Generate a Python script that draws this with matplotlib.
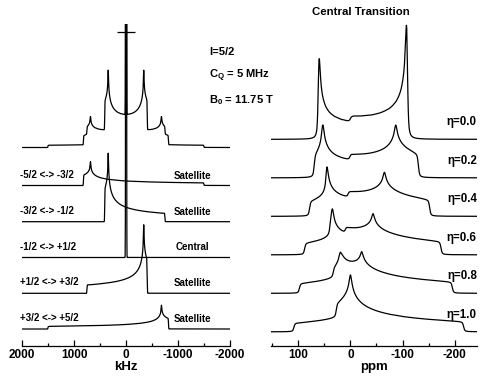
import numpy as np
import matplotlib
matplotlib.use("Agg")
import matplotlib.pyplot as plt

# spin system written on the figure
spin = 2.5
cq_mhz = 5.0
b0_tesla = 11.75
larmor_mhz = 67.8          # 17O Larmor frequency at 11.75 T
eta_kHz_panel = 0.09       # small asymmetry seen as split horns in the kHz traces
sum_gain = 0.87            # the summed trace is drawn at slightly lower gain

# transitions (m-1 <-> m), listed by m
transition_m = [-1.5, -0.5, 0.5, 1.5, 2.5]
transition_labels = ['-5/2 <-> -3/2', '-3/2 <-> -1/2', '-1/2 <-> +1/2',
                     '+1/2 <-> +3/2', '+3/2 <-> +5/2']
transition_kinds = ['Satellite', 'Satellite', 'Central', 'Satellite', 'Satellite']

# asymmetry parameters of the central transition traces
eta_values = [0.0, 0.2, 0.4, 0.6, 0.8, 1.0]

khz_ticks = [2000, 1000, 0, -1000, -2000]
ppm_ticks = [100, 0, -100, -200]

plt.rcParams['font.family'] = ['Liberation Sans', 'DejaVu Sans']
plt.rcParams['font.weight'] = 'bold'
plt.rcParams['mathtext.fontset'] = 'custom'
plt.rcParams['mathtext.rm'] = 'Liberation Sans:bold'
plt.rcParams['mathtext.bf'] = 'Liberation Sans:bold'

# powder grid: uniform in cos(theta) and phi
mu = (np.arange(2000) + 0.5) / 2000
phi = (np.arange(600) + 0.5) / 600 * np.pi / 2
MU, PHI = np.meshgrid(mu, phi)
MU = MU.ravel()
C2 = np.cos(2 * PHI).ravel()

nuq = 3 * cq_mhz * 1000 / (2 * spin * (2 * spin - 1))   # kHz
a = spin * (spin + 1)
nul = larmor_mhz * 1000                                  # kHz


def first_order(m, eta):
    return 0.5 * nuq * (m - 0.5) * (3 * MU**2 - 1 + eta * (1 - MU**2) * C2)


def second_order_ct(eta):
    A = -27 / 8 + 9 / 4 * eta * C2 - 3 / 8 * eta**2 * C2**2
    B = 30 / 8 - eta**2 / 2 - 2 * eta * C2 + 3 / 4 * eta**2 * C2**2
    C = -3 / 8 + eta**2 / 3 - eta / 4 * C2 - 3 / 8 * eta**2 * C2**2
    return -(nuq**2 / (6 * nul)) * (a - 0.75) * (A * MU**4 + B * MU**2 + C)


def spectrum(freq, edges, weight, kernel):
    h, _ = np.histogram(freq, bins=edges)
    h = h * weight / (len(freq) * (edges[1] - edges[0]))
    return np.convolve(h, kernel, mode='same')


def gauss_kernel(fwhm, step):
    s = fwhm / 2.3548
    x = np.arange(-int(5 * s / step) - 1, int(5 * s / step) + 2) * step
    k = np.exp(-0.5 * (x / s)**2)
    return k / k.sum()


def lorentz_kernel(fwhm, step):
    x = np.arange(-int(40 * fwhm / step), int(40 * fwhm / step) + 1) * step
    k = 1 / (1 + (2 * x / fwhm)**2)
    return k / k.sum()


# ---- kHz panel ----
k_edges = np.arange(-2000, 2000.5, 1.0)
k_x = 0.5 * (k_edges[1:] + k_edges[:-1])
k_kernel = gauss_kernel(9.0, 1.0)
rows = []
for m in transition_m:
    f = first_order(m, eta_kHz_panel)
    if m == 0.5:
        f = f + second_order_ct(eta_kHz_panel)
    w = a - m * (m - 1)
    rows.append(spectrum(f, k_edges, w, k_kernel))
k_scale = 68.5 / rows[1].max()
rows = [r * k_scale for r in rows]
total = np.sum(rows, axis=0) * sum_gain

# ---- ppm panel ----
p_edges = np.arange(-260, 170.01, 0.25)
p_x = 0.5 * (p_edges[1:] + p_edges[:-1])
p_kernel = np.convolve(lorentz_kernel(2.0, 0.25), gauss_kernel(2.5, 0.25), mode='same')
ct_rows = []
for eta in eta_values:
    f = second_order_ct(eta) * 1000 / larmor_mhz  # ppm
    ct_rows.append(spectrum(f, p_edges, 1.0, p_kernel))
p_scale = 114 / ct_rows[0].max()
ct_rows = [r * p_scale for r in ct_rows]

W, H = 482, 376
fig = plt.figure(figsize=(W / 100, H / 100), dpi=100)
axl = fig.add_axes([22 / W, 30 / H, 208 / W, 322 / H])
axr = fig.add_axes([271 / W, 30 / H, 206 / W, 346 / H])

lw = 0.9
left_base = [160.5, 124.3, 88.5, 52.7, 17.0]
axl.plot(k_x, total + 198.5, color='k', lw=lw)
for r, b, lab, kind in zip(rows, left_base, transition_labels, transition_kinds):
    axl.plot(k_x, r + b, color='k', lw=lw)
    axl.text(2030, b + 11, lab, fontsize=7, ha='left', va='center')
    axl.text(-1280, b + 10, kind, fontsize=7, ha='center', va='center')
axl.plot([0], [314], marker='_', ms=12.5, mew=lw, color='k')
axl.set_xlim(2000, -2000)
axl.set_ylim(0, 322)
axl.set_xticks(khz_ticks)
axl.set_xticks([1500, 500, -500, -1500], minor=True)
axl.set_xticklabels([str(t) for t in khz_ticks])
axl.set_xlabel('kHz', fontsize=9.5, fontweight='bold', labelpad=0)

right_base = [206.7, 168.2, 129.7, 91.2, 52.7, 14.2]
for r, b, eta in zip(ct_rows, right_base, eta_values):
    axr.plot(p_x, r + b, color='k', lw=lw)
    axr.text(-243, b + 17, 'η=%.1f' % eta, fontsize=8.3, ha='right', va='center')
axr.set_xlim(152.8, -243.2)
axr.set_ylim(0, 346)
axr.set_xticks(ppm_ticks)
axr.set_xticks([150, 50, -50, -150], minor=True)
axr.set_xticklabels([str(t) for t in ppm_ticks])
axr.set_xlabel('ppm', fontsize=9.5, fontweight='bold', labelpad=0)

for ax in (axl, axr):
    for s in ('left', 'right', 'top'):
        ax.spines[s].set_visible(False)
    ax.spines['bottom'].set_linewidth(lw)
    ax.set_yticks([])
    ax.patch.set_alpha(0)
    ax.tick_params(axis='x', which='major', direction='in', length=4.5, width=lw,
                   labelsize=8.5, pad=2.5)
    ax.tick_params(axis='x', which='minor', direction='in', length=2.2, width=lw)
    for t in ax.get_xticklabels():
        t.set_fontweight('bold')

fig.text(209 / W, 1 - 52 / H, 'I=5/2', fontsize=8, va='center')
fig.text(209 / W, 1 - 76 / H, r'C$_\mathregular{Q}$ = 5 MHz', fontsize=8, va='center')
fig.text(209 / W, 1 - 100 / H, r'B$_\mathregular{0}$ = 11.75 T', fontsize=8, va='center')
fig.text(360.5 / W, 1 - 12 / H, 'Central Transition', fontsize=8.2, ha='center', va='center')

fig.savefig('out.png', dpi=100)
